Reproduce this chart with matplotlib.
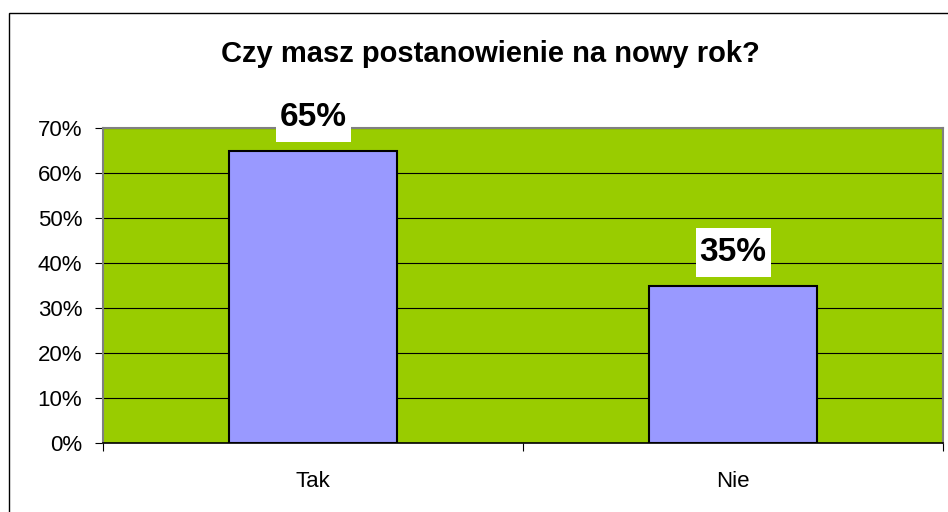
import matplotlib.pyplot as plt
from matplotlib.patches import Rectangle
from matplotlib.ticker import FixedLocator
from matplotlib.transforms import IdentityTransform

plt.rcParams['font.family'] = ['Liberation Sans', 'DejaVu Sans']

# data
categories = ['Tak', 'Nie']
values = [65, 35]
y_ticks = [0, 10, 20, 30, 40, 50, 60, 70]
title = 'Czy masz postanowienie na nowy rok?'

W, H = 948, 512
fig = plt.figure(figsize=(W / 100, H / 100), dpi=100)

# outer chart border (left/top visible only)
fig.patches.append(Rectangle((9 / W, -0.1), 1.2, 1.1 - 13 / H,
                             transform=fig.transFigure, fill=False,
                             edgecolor='black', linewidth=1.0))

ax = fig.add_axes([103 / W, 1 - 443 / H, (943 - 103) / W, (443 - 128) / H])
ax.set_facecolor('#99CC00')

x = range(len(categories))
bars = ax.bar(x, values, width=0.4, color='#9999FF', edgecolor='black',
              linewidth=1.5, zorder=3)

ax.set_xlim(-0.5, len(categories) - 0.5)
ax.set_ylim(0, 70)
ax.set_yticks(y_ticks)
ax.set_yticklabels([f'{v}%' for v in y_ticks])
ax.yaxis.grid(True, color='black', linewidth=0.8)
ax.set_axisbelow(True)

ax.set_xticks(list(x))
ax.set_xticklabels(categories)
ax.xaxis.set_minor_locator(FixedLocator([-0.5, 0.5, 1.5]))
ax.tick_params(axis='x', which='major', length=0, pad=20, labelsize=16)
ax.tick_params(axis='x', which='minor', length=6, width=0.8, color='black')
ax.tick_params(axis='y', length=6, width=0.8, pad=9, labelsize=16)

for side in ['top', 'left', 'right']:
    ax.spines[side].set_color('#808080')
    ax.spines[side].set_linewidth(1.5)
ax.spines['bottom'].set_color('black')
ax.spines['bottom'].set_linewidth(1.2)

labels = []
for b, v in zip(bars, values):
    t = ax.annotate(f'{v}%', (b.get_x() + b.get_width() / 2, v),
                    xytext=(0, 24), textcoords='offset points',
                    ha='center', va='center', fontsize=24, fontweight='bold',
                    zorder=5, annotation_clip=False)
    labels.append(t)

fig.text((217 + 763) / 2 / W, 1 - 54 / H, title, ha='center', va='center',
         fontsize=21, fontweight='bold')

# white boxes behind the value labels (taller than wide padding)
fig.canvas.draw()
for t in labels:
    bb = t.get_window_extent()
    ax.add_patch(Rectangle((bb.x0 - 4, bb.y0 - 9), bb.width + 8, bb.height + 18,
                           transform=IdentityTransform(), facecolor='white',
                           edgecolor='none', zorder=4, clip_on=False))

fig.savefig('out.png', dpi=100)
